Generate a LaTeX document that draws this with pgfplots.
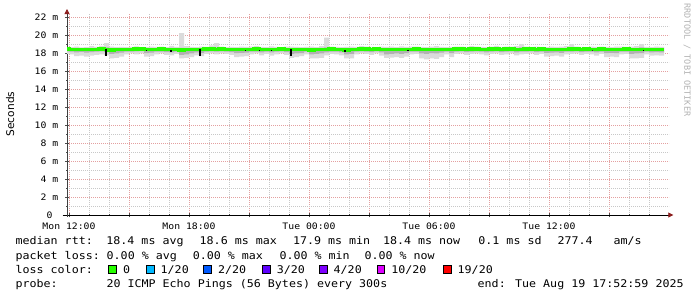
\documentclass[border=0pt]{standalone}
\usepackage{fontspec}
\usepackage{pgfplots}
\usepackage{pgfplotstable}
\pgfplotsset{compat=1.18}
\usepgfplotslibrary{fillbetween}
\usetikzlibrary{arrows.meta}
\setmainfont{DejaVu Sans}
\newfontfamily\legfontfam{DejaVu Sans Mono}[FakeStretch=1.1]
\newfontfamily\plainmono{DejaVu Sans Mono}
\newcommand\lgfont{\legfontfam\fontsize{10.6bp}{12bp}\selectfont}
\newcommand\tkfont{\legfontfam\fontsize{8.9bp}{10bp}\selectfont}
\newcommand\wmfont{\plainmono\fontsize{8.5bp}{10bp}\selectfont}
\definecolor{mgridc}{RGB}{228,160,160}
\definecolor{gridc}{RGB}{200,200,200}
\definecolor{arrowc}{RGB}{140,30,30}
\definecolor{lz}{HTML}{26FF00}
\definecolor{la}{HTML}{00B8FF}
\definecolor{lb}{HTML}{0059FF}
\definecolor{lc}{HTML}{5E00FF}
\definecolor{ld}{HTML}{7E00FF}
\definecolor{le}{HTML}{DD00FF}
\definecolor{lf}{HTML}{FF0000}

% time in minutes since Mon 00:00; rtt in ms
\pgfplotstableread{
t lo q1 med q3 hi
714 17.90 18.18 18.42 18.55 18.66
720 17.85 18.15 18.41 18.52 18.64
735 17.65 18.08 18.40 18.55 18.72
750 17.70 18.12 18.41 18.52 18.62
765 17.60 18.05 18.38 18.50 18.66
780 17.70 18.10 18.40 18.55 18.76
795 17.80 18.14 18.41 18.53 18.68
810 17.85 18.18 18.42 18.58 18.80
825 17.75 18.10 18.40 18.62 19.10
840 17.40 17.90 18.36 18.52 18.70
855 17.45 17.95 18.38 18.52 18.66
870 17.60 18.05 18.40 18.55 18.68
885 17.85 18.14 18.41 18.53 18.64
900 17.95 18.16 18.40 18.52 18.68
915 17.85 18.18 18.43 18.56 18.74
930 17.95 18.20 18.42 18.52 18.66
945 17.60 18.00 18.38 18.52 18.66
960 17.65 18.05 18.39 18.52 18.70
975 17.85 18.14 18.40 18.55 18.68
990 17.95 18.16 18.42 18.56 18.72
1005 17.80 18.10 18.40 18.52 18.66
1020 17.75 18.08 18.41 18.58 18.78
1035 17.90 18.14 18.38 18.52 18.68
1050 17.40 17.80 18.35 18.58 20.20
1065 17.45 17.85 18.37 18.55 18.76
1080 17.55 17.95 18.39 18.52 18.68
1095 17.75 18.08 18.40 18.55 18.66
1110 17.65 18.02 18.38 18.52 18.72
1125 17.90 18.16 18.42 18.55 18.68
1140 17.95 18.18 18.43 18.58 18.85
1155 17.85 18.14 18.41 18.62 19.10
1170 17.95 18.18 18.42 18.55 18.70
1185 17.90 18.16 18.41 18.52 18.66
1200 17.80 18.10 18.40 18.52 18.68
1215 17.55 18.00 18.38 18.52 18.66
1230 17.60 18.02 18.39 18.55 18.72
1245 17.65 18.05 18.40 18.52 18.68
1260 17.85 18.14 18.41 18.55 18.70
1275 17.95 18.16 18.42 18.56 18.76
1290 17.75 18.08 18.40 18.53 18.68
1305 17.90 18.15 18.41 18.52 18.66
1320 17.70 18.08 18.39 18.55 18.74
1335 17.85 18.14 18.40 18.53 18.68
1350 17.95 18.18 18.42 18.55 18.66
1365 17.80 18.10 18.40 18.52 18.70
1380 17.45 17.90 18.37 18.52 18.72
1395 17.55 17.95 18.38 18.52 18.68
1410 17.65 18.00 18.39 18.55 18.66
1425 17.85 18.14 18.41 18.55 18.68
1440 17.40 17.85 18.36 18.52 18.70
1455 17.40 17.90 18.37 18.52 18.66
1470 17.45 17.95 18.38 18.58 18.76
1485 17.75 18.08 18.40 18.62 19.70
1500 17.90 18.16 18.42 18.55 18.72
1515 17.85 18.14 18.41 18.53 18.68
1530 17.75 18.08 18.40 18.52 18.66
1545 17.40 17.85 18.36 18.52 18.68
1560 17.40 17.90 18.37 18.52 18.70
1575 17.85 18.14 18.41 18.55 18.68
1590 17.95 18.18 18.43 18.56 18.76
1605 17.90 18.16 18.42 18.55 18.70
1620 17.80 18.10 18.41 18.53 18.68
1635 17.95 18.18 18.42 18.52 18.66
1650 17.70 18.08 18.40 18.55 18.72
1665 17.45 17.85 18.37 18.52 18.68
1680 17.50 17.90 18.38 18.55 18.70
1695 17.55 17.95 18.38 18.52 18.66
1710 17.45 17.90 18.37 18.52 18.74
1725 17.60 18.00 18.39 18.55 18.68
1740 17.85 18.14 18.41 18.55 18.70
1755 17.90 18.16 18.42 18.56 18.72
1770 17.40 17.95 18.39 18.55 18.68
1785 17.30 17.90 18.38 18.52 18.66
1800 17.40 18.00 18.39 18.52 18.70
1815 17.35 17.95 18.38 18.55 18.76
1830 17.55 18.05 18.40 18.53 18.68
1845 17.85 18.14 18.41 18.52 18.66
1860 17.55 18.00 18.39 18.52 18.68
1875 17.90 18.16 18.42 18.55 18.72
1890 17.95 18.18 18.43 18.56 18.70
1905 17.80 18.10 18.41 18.53 18.68
1920 17.90 18.16 18.42 18.55 18.76
1935 17.95 18.18 18.43 18.57 18.72
1950 17.85 18.14 18.41 18.55 18.68
1965 17.75 18.08 18.40 18.52 18.66
1980 17.90 18.16 18.42 18.55 18.70
1995 17.95 18.18 18.43 18.58 18.78
2010 17.80 18.10 18.41 18.53 18.68
2025 17.85 18.14 18.42 18.55 18.72
2040 17.95 18.18 18.43 18.56 18.70
2055 17.75 18.08 18.40 18.55 18.76
2070 17.85 18.14 18.41 18.62 19.00
2085 17.90 18.16 18.42 18.55 18.72
2100 17.95 18.18 18.43 18.56 18.68
2115 17.80 18.10 18.41 18.53 18.70
2130 17.90 18.16 18.42 18.55 18.68
2145 17.60 18.02 18.39 18.52 18.66
2160 17.65 18.05 18.40 18.55 18.70
2175 17.70 18.08 18.40 18.52 18.68
2190 17.60 18.02 18.39 18.53 18.72
2205 17.85 18.14 18.41 18.55 18.76
2220 17.90 18.16 18.42 18.62 19.00
2235 17.95 18.18 18.43 18.56 18.70
2250 17.80 18.10 18.41 18.53 18.68
2265 17.90 18.16 18.42 18.55 18.66
2280 17.85 18.14 18.41 18.55 18.72
2295 17.70 18.08 18.40 18.52 18.68
2310 17.90 18.16 18.42 18.56 18.70
2325 17.55 18.00 18.38 18.52 18.68
2340 17.60 18.02 18.39 18.55 18.66
2355 17.55 18.00 18.38 18.52 18.70
2370 17.85 18.14 18.41 18.55 18.72
2385 17.90 18.16 18.42 18.56 18.68
2400 17.40 17.90 18.37 18.52 18.70
2415 17.40 17.95 18.38 18.55 18.76
2430 17.45 18.00 18.39 18.62 19.00
2445 17.85 18.14 18.41 18.55 18.68
2460 17.70 18.08 18.40 18.52 18.66
2475 17.75 18.10 18.40 18.53 18.70
2490 17.70 18.08 18.40 18.55 18.68
2505 17.75 18.10 18.40 18.53 18.66
}\smoke

\begin{document}
\begin{tikzpicture}[x=1bp,y=1bp]
\begin{axis}[
  at={(67bp,-215bp)}, anchor=south west,
  scale only axis, width=602bp, height=201.6bp,
  xmin=714, xmax=2520, ymin=0, ymax=22.4,
  axis lines=left,
  x axis line style={black, line width=0.8bp, shorten <=-4.3bp, shorten >=-4.3bp, -{Triangle[length=5bp,width=5bp,color=arrowc]}},
  y axis line style={black!75, line width=0.8bp, shorten <=-2bp, shorten >=-4.4bp, -{Triangle[length=5bp,width=5bp,color=arrowc]}},
  xtick={720,900,...,2340},
  xticklabels={Mon 12:00,,Mon 18:00,,Tue 00:00,,Tue 06:00,,Tue 12:00,},
  minor xtick={720,780,...,2460},
  ytick={0,2,...,22},
  yticklabels={0~~,2~m,4~m,6~m,8~m,10~m,12~m,14~m,16~m,18~m,20~m,22~m},
  minor ytick={1,3,...,21},
  grid=both,
  major grid style={mgridc, line width=0.8bp, dash pattern=on 1bp off 1bp},
  minor grid style={gridc, line width=0.8bp, dash pattern=on 1bp off 1bp},
  tick align=center,
  major tick length=4bp, minor tick length=2bp,
  tick style={black!70, line width=0.6bp},
  tick label style={font=\tkfont},
  xticklabel style={anchor=base, inner sep=0pt, yshift=-12.7bp},
  yticklabel style={anchor=east, inner sep=0pt, xshift=-6.5bp},
]
\addplot[name path=hi, draw=none, const plot] table[x=t,y=hi]{\smoke};
\addplot[name path=lo, draw=none, const plot] table[x=t,y=lo]{\smoke};
\addplot[fill=gray!28, draw=none] fill between[of=hi and lo];
\addplot[name path=qc, draw=none, const plot] table[x=t,y=q3]{\smoke};
\addplot[name path=qa, draw=none, const plot] table[x=t,y=q1]{\smoke};
\addplot[fill=gray!60, draw=none] fill between[of=qc and qa];
\addplot[lz, line width=3.5bp, const plot] table[x=t,y=med]{\smoke};
\addplot[black, line width=1.5bp] coordinates {(831,18.45) (831,17.65)};
\addplot[black, line width=1.5bp] coordinates {(1113,18.45) (1113,17.65)};
\addplot[black, line width=1.5bp] coordinates {(1386,18.45) (1386,17.7)};
\addplot[black, line width=1.2bp] coordinates {(1026,18.35) (1026,18.12)};
\addplot[black, line width=1.2bp] coordinates {(1548,18.35) (1548,18.1)};
\addplot[black, line width=1.2bp] coordinates {(1737,18.35) (1737,18.2)};
\addplot[black!80, line width=1.2bp] coordinates {(2291,18.35) (2291,18.2)};
\addplot[black, line width=1.2bp] coordinates {(2443,18.35) (2443,18.2)};
\addplot[black, line width=1bp] coordinates {(953,18.32) (953,18.22)};
\addplot[black, line width=1bp] coordinates {(1248,18.32) (1248,18.22)};
\addplot[black, line width=1bp] coordinates {(1290,18.32) (1290,18.22)};
\addplot[black, line width=1bp] coordinates {(1326,18.32) (1326,18.22)};
\end{axis}

% y axis title and watermark
\node[rotate=90, anchor=base, inner sep=0pt, font=\fontsize{10.6bp}{12bp}\selectfont] at (14,-114) {Seconds};
\node[rotate=-90, anchor=base, inner sep=0pt, font=\wmfont, text=black!30] at (684.3,-60) {RRDTOOL / TOBI OETIKER};

% legend
\begin{scope}[every node/.style={anchor=base west, inner sep=0pt, font=\lgfont}]
\node at (15.4,-244.9) {median rtt:};
\node at (106.2,-244.9) {18.4 ms avg};
\node at (199.5,-244.9) {18.6 ms max};
\node at (292.8,-244.9) {17.9 ms min};
\node at (382.8,-244.9) {18.4 ms now};
\node at (478.2,-244.9) {0.1 ms sd};
\node at (557.3,-244.9) {277.4~~~am/s};

\node at (15.4,-259.1) {packet loss:};
\node at (106.5,-259.1) {0.00 \% avg};
\node at (192.6,-259.1) {0.00 \% max};
\node at (279.3,-259.1) {0.00 \% min};
\node at (364.3,-259.1) {0.00 \% now};

\node at (15.4,-273.1) {loss color:};
\node at (122.8,-273.1) {0};
\node at (160.5,-273.1) {1/20};
\node at (217.8,-273.1) {2/20};
\node at (276.7,-273.1) {3/20};
\node at (333.5,-273.1) {4/20};
\node at (391.2,-273.1) {10/20};
\node at (457.5,-273.1) {19/20};

\node at (15.4,-287.3) {probe:};
\node at (106.3,-287.3) {20 ICMP Echo Pings (56 Bytes) every 300s};
\node at (477.5,-287.3) {end: Tue Aug 19 17:52:59 2025};
\end{scope}
\begin{scope}[line width=0.8bp]
\filldraw[fill=lz, draw=black] (108.7,-265.1) rectangle ++(7.6,-7.8);
\filldraw[fill=la, draw=black] (146.4,-265.1) rectangle ++(7.6,-7.8);
\filldraw[fill=lb, draw=black] (203.7,-265.1) rectangle ++(7.6,-7.8);
\filldraw[fill=lc, draw=black] (262.6,-265.1) rectangle ++(7.6,-7.8);
\filldraw[fill=ld, draw=black] (319.4,-265.1) rectangle ++(7.6,-7.8);
\filldraw[fill=le, draw=black] (377.1,-265.1) rectangle ++(7.6,-7.8);
\filldraw[fill=lf, draw=black] (443.4,-265.1) rectangle ++(7.6,-7.8);
\end{scope}
\pgfresetboundingbox
\useasboundingbox (0,0) rectangle (697,-297);
\end{tikzpicture}
\end{document}
